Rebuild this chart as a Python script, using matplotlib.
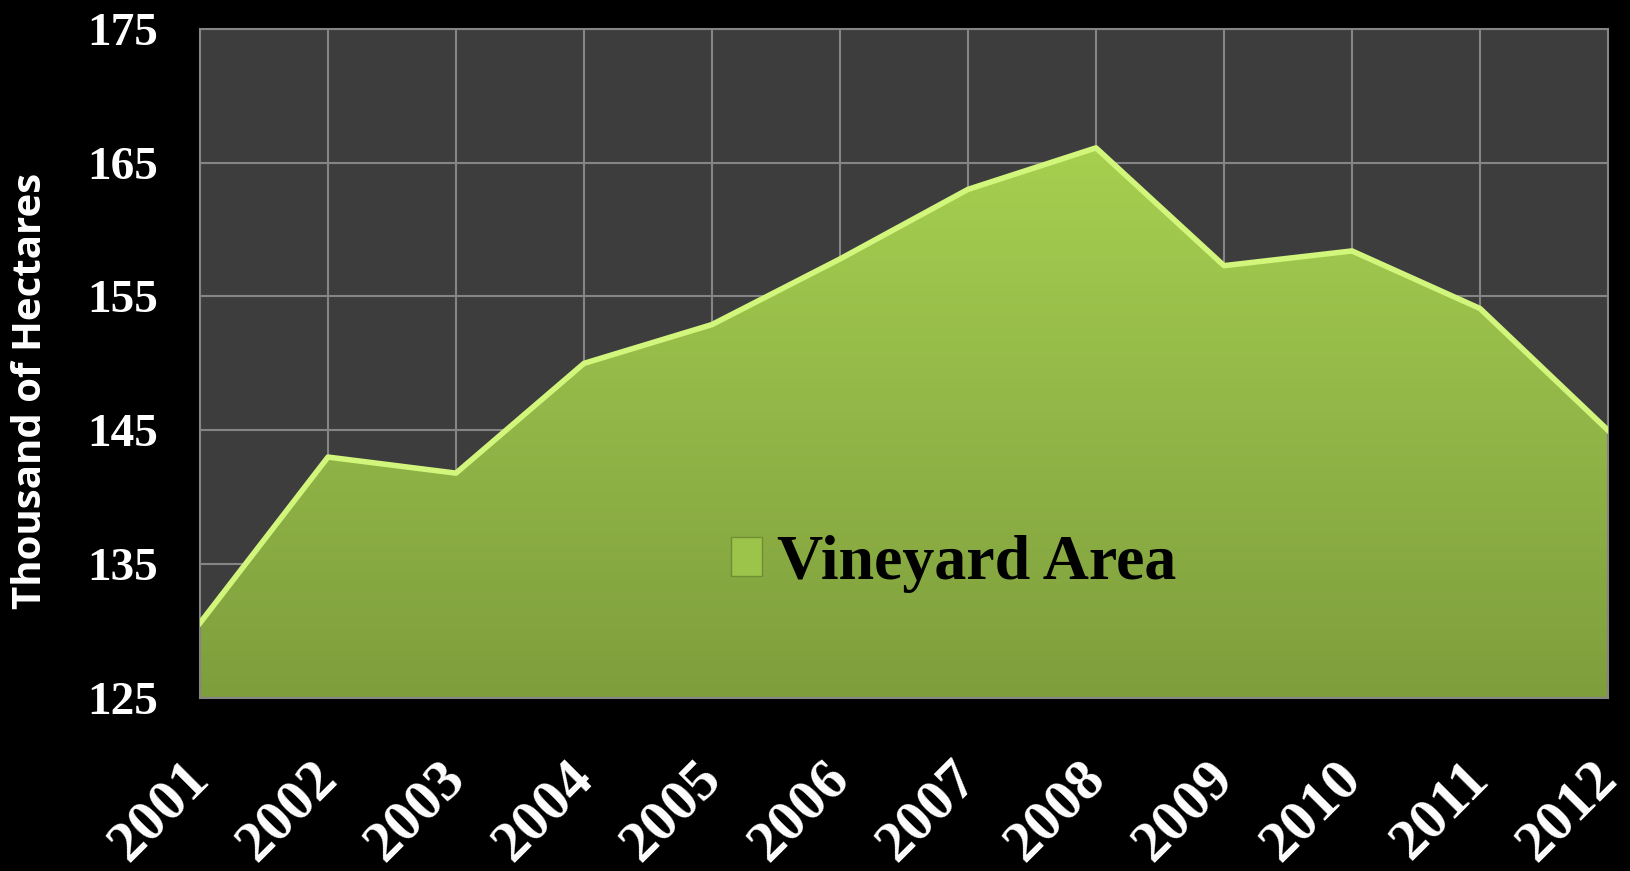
import numpy as np
import matplotlib

matplotlib.use("Agg")
import matplotlib.pyplot as plt
from matplotlib.patches import Patch
from matplotlib.colors import LinearSegmentedColormap
import matplotlib.transforms as mtransforms

# data
years = ["2001", "2002", "2003", "2004", "2005", "2006",
         "2007", "2008", "2009", "2010", "2011", "2012"]
vineyard_area = [130.6, 143.0, 141.8, 150.0, 152.9, 157.8,
                 163.0, 166.1, 157.3, 158.4, 154.1, 145.0]
y_ticks = [125, 135, 145, 155, 165, 175]

serif = "Liberation Serif"
sans = "Open Sans"

fig = plt.figure(figsize=(16.31, 8.71), dpi=100, facecolor="black")
ax = fig.add_axes([0.1226, 0.1986, 0.8633, 0.7684])
ax.set_facecolor("#3d3d3d")

x = np.arange(len(years))
ax.set_xlim(0, len(years) - 1)
ax.set_ylim(125, 175)

# gradient area fill, clipped to the polygon
poly = ax.fill_between(x, vineyard_area, 125, facecolor="none", edgecolor="none", zorder=2)
cmap = LinearSegmentedColormap.from_list("green", ["#7e9e3c", "#93b748", "#a8d250"])
grad = np.linspace(0, 1, 256).reshape(-1, 1)
img = ax.imshow(grad, cmap=cmap, origin="lower", aspect="auto",
                extent=[0, len(years) - 1, 125, 168], zorder=2)
img.set_clip_path(poly.get_paths()[0], transform=ax.transData)
ax.plot(x, vineyard_area, color="#d2f57c", lw=4, zorder=3, solid_joinstyle="round")

ax.set_xticks(x)
ax.set_yticks(y_ticks)
ax.grid(True, color="#858585", lw=1.5, zorder=1)
ax.set_axisbelow(True)
for s in ax.spines.values():
    s.set_color("#858585")
    s.set_linewidth(1.5)

ax.tick_params(length=0)
ax.tick_params(axis="y", pad=30)
ax.set_yticklabels([str(t) for t in y_ticks], fontsize=34, fontweight="bold",
                   family=serif, color="white")
ax.set_xticklabels(years, fontsize=42, fontweight="bold", family=serif, color="white",
                   rotation=45, ha="right", va="center", rotation_mode="anchor")
ax.tick_params(axis="x", pad=52)
offset = mtransforms.ScaledTranslation(1 / 100, 0, fig.dpi_scale_trans)
for lbl in ax.get_xticklabels():
    lbl.set_transform(lbl.get_transform() + offset)

fig.text(0.0184, 0.551, "Thousand of Hectares", rotation=90, ha="center", va="center",
         fontsize=29, fontweight="bold", family=sans, color="white")

handle = Patch(facecolor="#9cc34a", edgecolor="#6f8d32", lw=1)
fig.legend([handle], ["Vineyard Area"], loc="center left", bbox_to_anchor=(0.4283, 0.3526),
           frameon=False, borderpad=0, handlelength=0.5, handleheight=0.55, handletextpad=0.22,
           prop={"family": serif, "weight": "bold", "size": 46})

fig.savefig("out.png", dpi=100, facecolor="black")
